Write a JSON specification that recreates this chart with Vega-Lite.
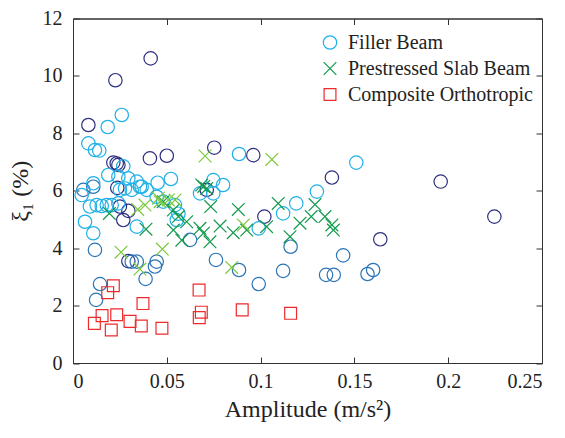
{
  "$schema": "https://vega.github.io/schema/vega-lite/v6.json",
  "width": 469,
  "height": 344.5,
  "autosize": {"type": "none"},
  "padding": {"left": 73, "top": 18.5, "right": 23, "bottom": 75},
  "background": "white",
  "config": {
    "view": {"stroke": "#333", "strokeWidth": 1},
    "font": "Liberation Serif"
  },
  "data": {"values": [
    {"type": "Filler Beam", "tone": "navy", "x": 0.0414, "y": 10.61},
    {"type": "Filler Beam", "tone": "navy", "x": 0.0226, "y": 9.85},
    {"type": "Filler Beam", "tone": "navy", "x": 0.0082, "y": 8.29},
    {"type": "Filler Beam", "tone": "navy", "x": 0.0215, "y": 6.98},
    {"type": "Filler Beam", "tone": "navy", "x": 0.0233, "y": 6.95},
    {"type": "Filler Beam", "tone": "navy", "x": 0.0242, "y": 6.9},
    {"type": "Filler Beam", "tone": "navy", "x": 0.041, "y": 7.13},
    {"type": "Filler Beam", "tone": "navy", "x": 0.05, "y": 7.22},
    {"type": "Filler Beam", "tone": "navy", "x": 0.0753, "y": 7.5},
    {"type": "Filler Beam", "tone": "navy", "x": 0.0961, "y": 7.24},
    {"type": "Filler Beam", "tone": "navy", "x": 0.138, "y": 6.46},
    {"type": "Filler Beam", "tone": "navy", "x": 0.196, "y": 6.32},
    {"type": "Filler Beam", "tone": "navy", "x": 0.2246, "y": 5.1},
    {"type": "Filler Beam", "tone": "navy", "x": 0.1638, "y": 4.31},
    {"type": "Filler Beam", "tone": "navy", "x": 0.102, "y": 5.1},
    {"type": "Filler Beam", "tone": "navy", "x": 0.0713, "y": 6.03},
    {"type": "Filler Beam", "tone": "navy", "x": 0.0236, "y": 6.1},
    {"type": "Filler Beam", "tone": "navy", "x": 0.025, "y": 5.45},
    {"type": "Filler Beam", "tone": "navy", "x": 0.0295, "y": 5.3},
    {"type": "Filler Beam", "tone": "navy", "x": 0.0268, "y": 4.98},
    {"type": "Filler Beam", "tone": "navy", "x": 0.0295, "y": 3.55},
    {"type": "Filler Beam", "tone": "blue", "x": 0.0055, "y": 6.03},
    {"type": "Filler Beam", "tone": "blue", "x": 0.0108, "y": 6.14},
    {"type": "Filler Beam", "tone": "blue", "x": 0.0117, "y": 3.94},
    {"type": "Filler Beam", "tone": "blue", "x": 0.0144, "y": 2.75},
    {"type": "Filler Beam", "tone": "blue", "x": 0.0123, "y": 2.2},
    {"type": "Filler Beam", "tone": "blue", "x": 0.034, "y": 3.53},
    {"type": "Filler Beam", "tone": "blue", "x": 0.0313, "y": 3.53},
    {"type": "Filler Beam", "tone": "blue", "x": 0.0387, "y": 2.93},
    {"type": "Filler Beam", "tone": "blue", "x": 0.0437, "y": 3.36},
    {"type": "Filler Beam", "tone": "blue", "x": 0.0446, "y": 3.53},
    {"type": "Filler Beam", "tone": "blue", "x": 0.0624, "y": 4.29},
    {"type": "Filler Beam", "tone": "blue", "x": 0.0762, "y": 3.59},
    {"type": "Filler Beam", "tone": "blue", "x": 0.0885, "y": 3.24},
    {"type": "Filler Beam", "tone": "blue", "x": 0.099, "y": 2.75},
    {"type": "Filler Beam", "tone": "blue", "x": 0.112, "y": 3.21},
    {"type": "Filler Beam", "tone": "blue", "x": 0.116, "y": 4.05},
    {"type": "Filler Beam", "tone": "blue", "x": 0.144, "y": 3.75},
    {"type": "Filler Beam", "tone": "blue", "x": 0.1349, "y": 3.07},
    {"type": "Filler Beam", "tone": "blue", "x": 0.139, "y": 3.07},
    {"type": "Filler Beam", "tone": "blue", "x": 0.157, "y": 3.1},
    {"type": "Filler Beam", "tone": "blue", "x": 0.16, "y": 3.24},
    {"type": "Filler Beam", "tone": "cyan", "x": 0.026, "y": 8.64},
    {"type": "Filler Beam", "tone": "cyan", "x": 0.0185, "y": 8.22},
    {"type": "Filler Beam", "tone": "cyan", "x": 0.0082, "y": 7.65},
    {"type": "Filler Beam", "tone": "cyan", "x": 0.0117, "y": 7.42},
    {"type": "Filler Beam", "tone": "cyan", "x": 0.014, "y": 7.4},
    {"type": "Filler Beam", "tone": "cyan", "x": 0.0885, "y": 7.28},
    {"type": "Filler Beam", "tone": "cyan", "x": 0.0268, "y": 6.85},
    {"type": "Filler Beam", "tone": "cyan", "x": 0.0522, "y": 6.41},
    {"type": "Filler Beam", "tone": "cyan", "x": 0.0451, "y": 6.28},
    {"type": "Filler Beam", "tone": "cyan", "x": 0.0188, "y": 6.55},
    {"type": "Filler Beam", "tone": "cyan", "x": 0.0242, "y": 6.49},
    {"type": "Filler Beam", "tone": "cyan", "x": 0.0295, "y": 6.43},
    {"type": "Filler Beam", "tone": "cyan", "x": 0.034, "y": 6.32},
    {"type": "Filler Beam", "tone": "cyan", "x": 0.0366, "y": 6.14},
    {"type": "Filler Beam", "tone": "cyan", "x": 0.0393, "y": 6.03},
    {"type": "Filler Beam", "tone": "cyan", "x": 0.0108, "y": 6.26},
    {"type": "Filler Beam", "tone": "cyan", "x": 0.025, "y": 6.03},
    {"type": "Filler Beam", "tone": "cyan", "x": 0.0277, "y": 6.08},
    {"type": "Filler Beam", "tone": "cyan", "x": 0.0313, "y": 6.03},
    {"type": "Filler Beam", "tone": "cyan", "x": 0.0357, "y": 6.14},
    {"type": "Filler Beam", "tone": "cyan", "x": 0.0046, "y": 5.85},
    {"type": "Filler Beam", "tone": "cyan", "x": 0.009, "y": 5.45},
    {"type": "Filler Beam", "tone": "cyan", "x": 0.0126, "y": 5.5},
    {"type": "Filler Beam", "tone": "cyan", "x": 0.0153, "y": 5.47},
    {"type": "Filler Beam", "tone": "cyan", "x": 0.018, "y": 5.5},
    {"type": "Filler Beam", "tone": "cyan", "x": 0.0206, "y": 5.5},
    {"type": "Filler Beam", "tone": "cyan", "x": 0.0242, "y": 5.56},
    {"type": "Filler Beam", "tone": "cyan", "x": 0.0064, "y": 4.92},
    {"type": "Filler Beam", "tone": "cyan", "x": 0.0108, "y": 4.52},
    {"type": "Filler Beam", "tone": "cyan", "x": 0.034, "y": 4.75},
    {"type": "Filler Beam", "tone": "cyan", "x": 0.0446, "y": 5.79},
    {"type": "Filler Beam", "tone": "cyan", "x": 0.0481, "y": 5.62},
    {"type": "Filler Beam", "tone": "cyan", "x": 0.0544, "y": 5.5},
    {"type": "Filler Beam", "tone": "cyan", "x": 0.0562, "y": 5.2},
    {"type": "Filler Beam", "tone": "cyan", "x": 0.0553, "y": 4.98},
    {"type": "Filler Beam", "tone": "cyan", "x": 0.0677, "y": 5.91},
    {"type": "Filler Beam", "tone": "cyan", "x": 0.0748, "y": 5.91},
    {"type": "Filler Beam", "tone": "cyan", "x": 0.0748, "y": 6.37},
    {"type": "Filler Beam", "tone": "cyan", "x": 0.08, "y": 6.2},
    {"type": "Filler Beam", "tone": "cyan", "x": 0.099, "y": 4.69},
    {"type": "Filler Beam", "tone": "cyan", "x": 0.112, "y": 5.21},
    {"type": "Filler Beam", "tone": "cyan", "x": 0.119, "y": 5.56},
    {"type": "Filler Beam", "tone": "cyan", "x": 0.13, "y": 5.97},
    {"type": "Filler Beam", "tone": "cyan", "x": 0.151, "y": 6.98},
    {"type": "Prestressed Slab Beam", "tone": "green", "x": 0.0686, "y": 6.2},
    {"type": "Prestressed Slab Beam", "tone": "green", "x": 0.0713, "y": 6.08},
    {"type": "Prestressed Slab Beam", "tone": "green", "x": 0.0697, "y": 6.15},
    {"type": "Prestressed Slab Beam", "tone": "green", "x": 0.0194, "y": 5.21},
    {"type": "Prestressed Slab Beam", "tone": "green", "x": 0.0389, "y": 4.66},
    {"type": "Prestressed Slab Beam", "tone": "green", "x": 0.0535, "y": 5.33},
    {"type": "Prestressed Slab Beam", "tone": "green", "x": 0.0562, "y": 5.1},
    {"type": "Prestressed Slab Beam", "tone": "green", "x": 0.0606, "y": 4.92},
    {"type": "Prestressed Slab Beam", "tone": "green", "x": 0.0535, "y": 4.63},
    {"type": "Prestressed Slab Beam", "tone": "green", "x": 0.058, "y": 4.28},
    {"type": "Prestressed Slab Beam", "tone": "green", "x": 0.0677, "y": 4.69},
    {"type": "Prestressed Slab Beam", "tone": "green", "x": 0.0695, "y": 4.52},
    {"type": "Prestressed Slab Beam", "tone": "green", "x": 0.073, "y": 4.22},
    {"type": "Prestressed Slab Beam", "tone": "green", "x": 0.0784, "y": 4.77},
    {"type": "Prestressed Slab Beam", "tone": "green", "x": 0.0854, "y": 4.54},
    {"type": "Prestressed Slab Beam", "tone": "green", "x": 0.0926, "y": 4.63},
    {"type": "Prestressed Slab Beam", "tone": "green", "x": 0.0881, "y": 5.35},
    {"type": "Prestressed Slab Beam", "tone": "green", "x": 0.1094, "y": 5.56},
    {"type": "Prestressed Slab Beam", "tone": "green", "x": 0.1032, "y": 4.75},
    {"type": "Prestressed Slab Beam", "tone": "green", "x": 0.121, "y": 4.87},
    {"type": "Prestressed Slab Beam", "tone": "green", "x": 0.1157, "y": 4.4},
    {"type": "Prestressed Slab Beam", "tone": "green", "x": 0.0734, "y": 5.45},
    {"type": "Prestressed Slab Beam", "tone": "green", "x": 0.129, "y": 5.52},
    {"type": "Prestressed Slab Beam", "tone": "green", "x": 0.127, "y": 5.1},
    {"type": "Prestressed Slab Beam", "tone": "green", "x": 0.1343, "y": 5.1},
    {"type": "Prestressed Slab Beam", "tone": "green", "x": 0.138, "y": 4.81},
    {"type": "Prestressed Slab Beam", "tone": "green", "x": 0.1388, "y": 4.63},
    {"type": "Prestressed Slab Beam", "tone": "green", "x": 0.0481, "y": 5.62},
    {"type": "Prestressed Slab Beam", "tone": "lime", "x": 0.0704, "y": 7.21},
    {"type": "Prestressed Slab Beam", "tone": "lime", "x": 0.106, "y": 7.09},
    {"type": "Prestressed Slab Beam", "tone": "lime", "x": 0.0256, "y": 3.86},
    {"type": "Prestressed Slab Beam", "tone": "lime", "x": 0.0476, "y": 3.97},
    {"type": "Prestressed Slab Beam", "tone": "lime", "x": 0.0357, "y": 3.27},
    {"type": "Prestressed Slab Beam", "tone": "lime", "x": 0.0846, "y": 3.33},
    {"type": "Prestressed Slab Beam", "tone": "lime", "x": 0.0345, "y": 5.35},
    {"type": "Prestressed Slab Beam", "tone": "lime", "x": 0.0384, "y": 5.5},
    {"type": "Prestressed Slab Beam", "tone": "lime", "x": 0.0455, "y": 5.74},
    {"type": "Prestressed Slab Beam", "tone": "lime", "x": 0.0508, "y": 5.68},
    {"type": "Prestressed Slab Beam", "tone": "lime", "x": 0.0544, "y": 5.68},
    {"type": "Prestressed Slab Beam", "tone": "lime", "x": 0.0908, "y": 4.81},
    {"type": "Prestressed Slab Beam", "tone": "lime", "x": 0.0464, "y": 5.62},
    {"type": "Composite Orthotropic", "tone": "red", "x": 0.0215, "y": 2.69},
    {"type": "Composite Orthotropic", "tone": "red", "x": 0.0185, "y": 2.45},
    {"type": "Composite Orthotropic", "tone": "red", "x": 0.0373, "y": 2.07},
    {"type": "Composite Orthotropic", "tone": "red", "x": 0.0155, "y": 1.65},
    {"type": "Composite Orthotropic", "tone": "red", "x": 0.0114, "y": 1.38},
    {"type": "Composite Orthotropic", "tone": "red", "x": 0.0233, "y": 1.68},
    {"type": "Composite Orthotropic", "tone": "red", "x": 0.0204, "y": 1.15},
    {"type": "Composite Orthotropic", "tone": "red", "x": 0.0304, "y": 1.45},
    {"type": "Composite Orthotropic", "tone": "red", "x": 0.0364, "y": 1.29},
    {"type": "Composite Orthotropic", "tone": "red", "x": 0.0474, "y": 1.21},
    {"type": "Composite Orthotropic", "tone": "red", "x": 0.0672, "y": 2.54},
    {"type": "Composite Orthotropic", "tone": "red", "x": 0.0684, "y": 1.77},
    {"type": "Composite Orthotropic", "tone": "red", "x": 0.0673, "y": 1.58},
    {"type": "Composite Orthotropic", "tone": "red", "x": 0.0902, "y": 1.85},
    {"type": "Composite Orthotropic", "tone": "red", "x": 0.116, "y": 1.73}
  ]},
  "layer": [
    {
      "mark": {"type": "point", "filled": false, "strokeWidth": 1.2, "opacity": 1},
      "encoding": {
        "x": {
          "field": "x", "type": "quantitative",
          "scale": {"domain": [0, 0.25], "nice": false, "zero": false},
          "axis": {
            "orient": "bottom", "values": [0, 0.05, 0.1, 0.15, 0.2, 0.25], "format": "~g",
            "title": "Amplitude (m/s²)", "grid": false,
            "tickSize": -6, "tickColor": "#333", "domainColor": "#333",
            "labelFont": "Liberation Serif", "labelFontSize": 20, "labelColor": "#222", "labelPadding": 14,
            "titleFont": "Liberation Serif", "titleFontSize": 24, "titleFontWeight": "normal", "titleColor": "#222", "titlePadding": 6,
            "encode": {"labels": {"update": {"font": {"value": "Liberation Serif"}}}}
          }
        },
        "y": {
          "field": "y", "type": "quantitative",
          "scale": {"domain": [0, 12], "nice": false, "zero": false},
          "axis": {
            "orient": "left", "values": [0, 2, 4, 6, 8, 10, 12],
            "title": "ξ₁ (%)", "grid": false,
            "tickSize": -6, "tickColor": "#333", "domainColor": "#333",
            "labelFont": "Liberation Serif", "labelFontSize": 20, "labelColor": "#222", "labelPadding": 17,
            "titleFont": "Liberation Serif", "titleFontSize": 24, "titleFontWeight": "normal", "titleColor": "#222", "titlePadding": 10,
            "encode": {"labels": {"update": {"font": {"value": "Liberation Serif"}}}}
          }
        },
        "color": {
          "field": "tone", "type": "nominal",
          "scale": {"domain": ["cyan", "blue", "navy", "green", "lime", "red"],
                    "range": ["#1fb0e8", "#2b74b6", "#2c2f80", "#0f9a4c", "#7cc93f", "#ee2a2a"]},
          "legend": null
        },
        "shape": {
          "field": "type", "type": "nominal",
          "scale": {"domain": ["Filler Beam", "Prestressed Slab Beam", "Composite Orthotropic"],
                    "range": ["circle", "M-1,-1L1,1M-1,1L1,-1", "square"]},
          "legend": null
        },
        "size": {
          "field": "type", "type": "nominal",
          "scale": {"domain": ["Filler Beam", "Prestressed Slab Beam", "Composite Orthotropic"], "range": [180, 140, 160]},
          "legend": null
        }
      }
    },
    {
      "transform": [{"filter": "false"}],
      "mark": {"type": "point", "filled": false, "strokeWidth": 1.2, "opacity": 1},
      "encoding": {
        "x": {"field": "x", "type": "quantitative", "axis": null},
        "y": {"field": "y", "type": "quantitative", "axis": null},
        "color": {
          "field": "type", "type": "nominal",
          "scale": {"domain": ["Filler Beam", "Prestressed Slab Beam", "Composite Orthotropic"],
                    "range": ["#1fb0e8", "#0f9a4c", "#ee2a2a"]},
          "legend": {
            "title": null, "orient": "none", "legendX": 247, "legendY": 14,
            "labelFont": "Liberation Serif", "labelFontSize": 20, "labelColor": "#222", "labelLimit": 400,
            "labelOffset": 8, "rowPadding": 6, "symbolStrokeWidth": 1.2, "symbolOpacity": 1,
            "encode": {"labels": {"update": {"font": {"value": "Liberation Serif"}}}}
          }
        },
        "shape": {
          "field": "type", "type": "nominal",
          "scale": {"domain": ["Filler Beam", "Prestressed Slab Beam", "Composite Orthotropic"],
                    "range": ["circle", "M-1,-1L1,1M-1,1L1,-1", "square"]},
          "legend": {
            "title": null, "orient": "none", "legendX": 247, "legendY": 14,
            "labelFont": "Liberation Serif", "labelFontSize": 20, "labelColor": "#222", "labelLimit": 400,
            "labelOffset": 8, "rowPadding": 6, "symbolStrokeWidth": 1.2, "symbolOpacity": 1,
            "encode": {"labels": {"update": {"font": {"value": "Liberation Serif"}}}}
          }
        },
        "size": {
          "field": "type", "type": "nominal",
          "scale": {"domain": ["Filler Beam", "Prestressed Slab Beam", "Composite Orthotropic"], "range": [180, 140, 160]},
          "legend": {
            "title": null, "orient": "none", "legendX": 247, "legendY": 14,
            "labelFont": "Liberation Serif", "labelFontSize": 20, "labelColor": "#222", "labelLimit": 400,
            "labelOffset": 8, "rowPadding": 6, "symbolStrokeWidth": 1.2, "symbolOpacity": 1,
            "encode": {"labels": {"update": {"font": {"value": "Liberation Serif"}}}}
          }
        }
      }
    },
    {
      "mark": {"type": "point", "opacity": 0},
      "encoding": {
        "x": {
          "field": "x", "type": "quantitative",
          "axis": {"orient": "top", "values": [0, 0.05, 0.1, 0.15, 0.2, 0.25], "labels": false, "title": null, "grid": false, "tickSize": -6, "tickColor": "#333", "domainColor": "#333"}
        },
        "y": {
          "field": "y", "type": "quantitative",
          "axis": {"orient": "right", "values": [0, 2, 4, 6, 8, 10, 12], "labels": false, "title": null, "grid": false, "tickSize": -6, "tickColor": "#333", "domainColor": "#333"}
        }
      }
    }
  ],
  "resolve": {"axis": {"x": "independent", "y": "independent"}, "scale": {"color": "independent", "shape": "independent", "size": "independent"}}
}
